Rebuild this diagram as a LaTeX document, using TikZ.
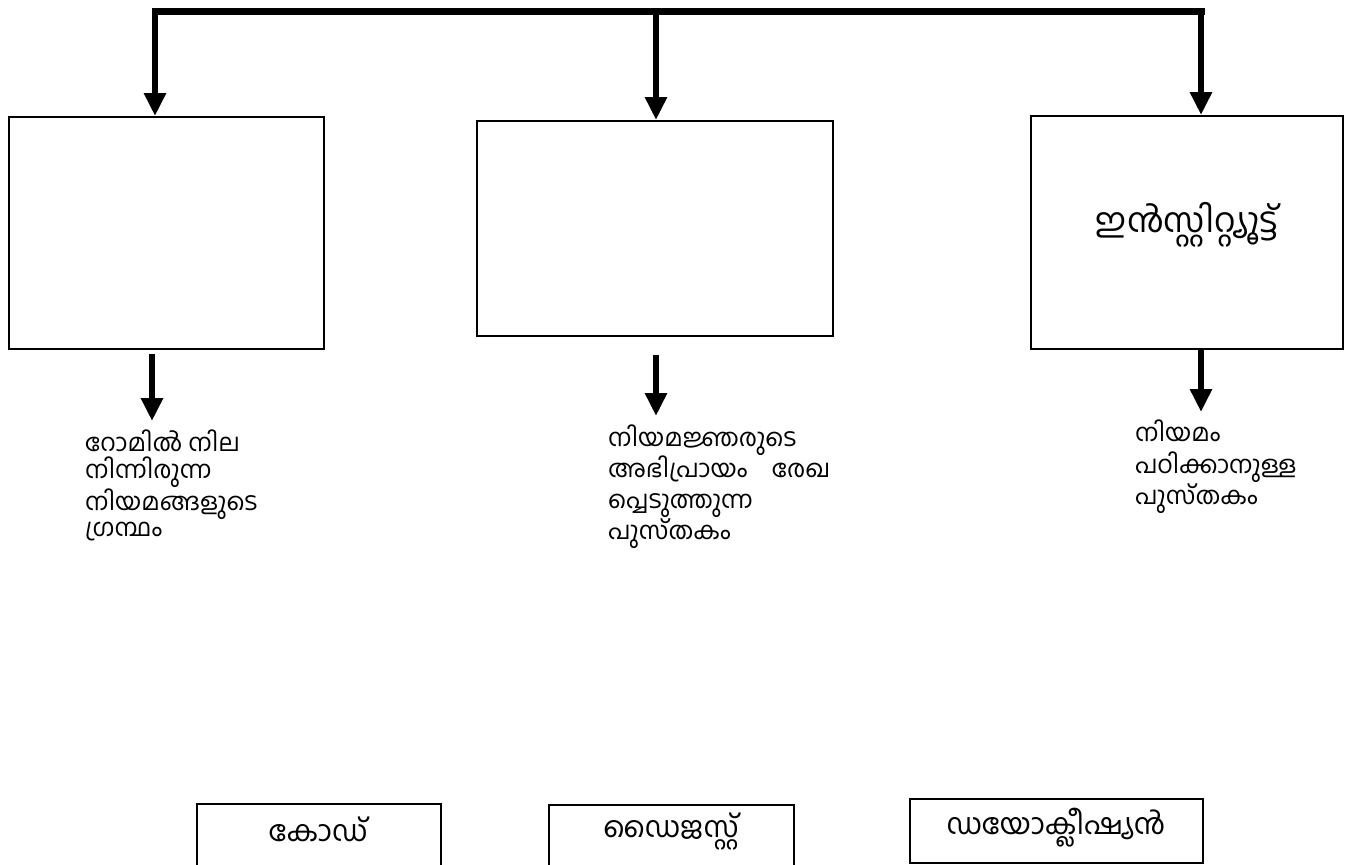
\documentclass[tikz,border=0pt]{standalone}
\usepackage{fontspec}
\newfontfamily\ml[Script=Malayalam]{Hind Kochi}
\usetikzlibrary{arrows.meta,calc}
\begin{document}
\begin{tikzpicture}[x=1pt,y=-1pt,
  box/.style={draw, line width=2pt, rectangle, inner sep=0pt},
  bus/.style={line width=7pt, line cap=rect},
  arr/.style={line width=6pt, -{Triangle[width=21pt,length=23pt]}},
  lbl/.style={font=\ml\fontsize{24.5}{#1}\selectfont, align=left, anchor=north west, inner sep=0pt},
  btxt/.style={font=\ml\fontsize{29}{32}\selectfont, inner sep=0pt}]
\useasboundingbox (0,0) rectangle (1350,865);
\clip (0,0) rectangle (1350,865);
% top boxes
\node[box, anchor=north west, minimum width=315, minimum height=232] (b1) at (8,116) {};
\node[box, anchor=north west, minimum width=356, minimum height=215] (b2) at (476,120) {};
\node[box, anchor=north west, minimum width=312, minimum height=233] (b3) at (1030,115) {};
\node[font=\ml\fontsize{34}{38}\selectfont, inner sep=0pt] (b3t) at (1187,225) {ഇൻസ്റ്റിറ്റ്യൂട്ട്};
% bus
\coordinate (t1) at (155,11.5);
\coordinate (t2) at (656,11.5);
\coordinate (t3) at (1201,11.5);
\draw[bus] (t1) -- (t3);
\draw[arr] (t1) -- (t1 |- b1.north);
\draw[arr] (t2) -- (t2 |- b2.north);
\draw[arr] (t3) -- (t3 |- b3.north);
% down arrows
\coordinate (d1) at (152,421);
\coordinate (d2) at (656,416);
\coordinate (d3) at (1201,412);
\draw[arr] ($(b1.south -| d1)+(0,4)$) -- (d1);
\draw[arr] ($(b2.south -| d2)+(0,18)$) -- (d2);
\draw[arr] (b3.south -| d3) -- (d3);
% labels
\node[lbl=26.5] (l1) at (85,430) {റോമിൽ നില\\നിന്നിരുന്ന\\നിയമങ്ങളുടെ\\ഗ്രന്ഥം};
\node[lbl=31] (l2) at (608,425) {നിയമജ്ഞരുടെ\\അഭിപ്രായം\quad രേഖ\\പ്പെടുത്തുന്ന\\പുസ്തകം};
\node[lbl=31.5] (l3) at (1135,420) {നിയമം\\പഠിക്കാനുള്ള\\പുസ്തകം};
% bottom boxes
\node[box, anchor=north west, minimum width=244, minimum height=120] (k1) at (196,803) {};
\node[box, anchor=north west, minimum width=245, minimum height=120] (k2) at (548,804) {};
\node[box, anchor=north west, minimum width=293, minimum height=64] (k3) at (909,798) {};
\node[btxt] (k1t) at (318,829) {കോഡ്};
\node[btxt] (k2t) at (671,831) {ഡൈജസ്റ്റ്};
\node[btxt] (k3t) at (1056,828) {ഡയോക്ലീഷ്യൻ};
\end{tikzpicture}
\end{document}
